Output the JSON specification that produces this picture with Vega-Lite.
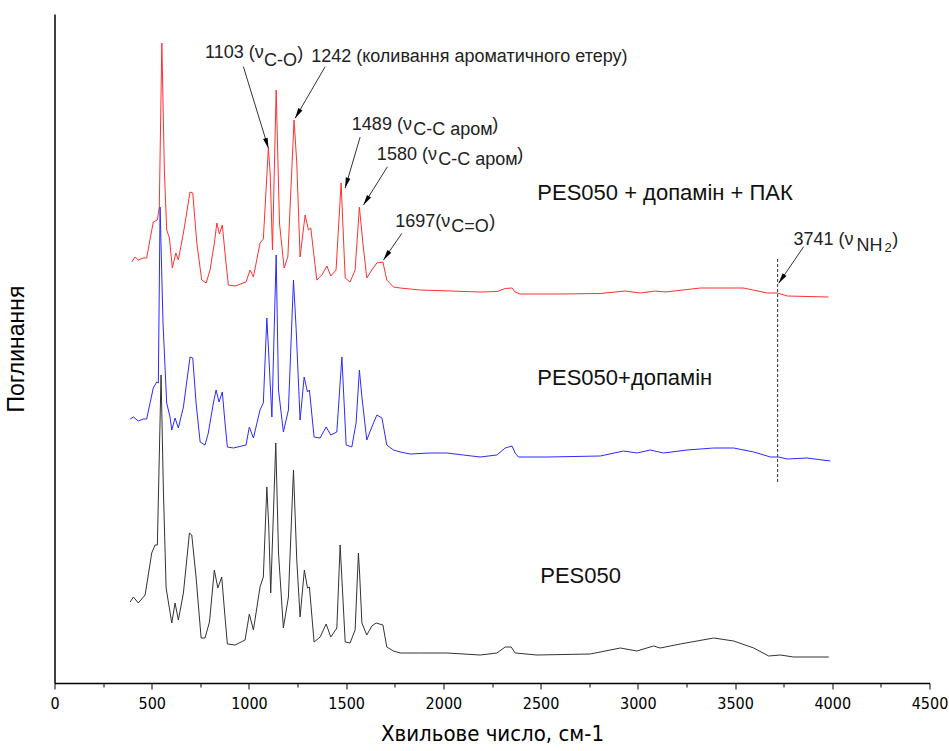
{
  "$schema": "https://vega.github.io/schema/vega-lite/v6.json",
  "width": 875,
  "height": 669,
  "autosize": "none",
  "padding": {"left": 54.5, "top": 14, "right": 19.5, "bottom": 68},
  "background": "white",
  "config": {"view": {"stroke": null}, "font": "Liberation Sans"},
  "datasets": {
    "spectra": [
      {"s":"PES050 + допамін + ПАК","wn":397,"a":421},{"s":"PES050 + допамін + ПАК","wn":414,"a":426},{"s":"PES050 + допамін + ПАК","wn":431,"a":423},{"s":"PES050 + допамін + ПАК","wn":457,"a":425},{"s":"PES050 + допамін + ПАК","wn":474,"a":425},{"s":"PES050 + допамін + ПАК","wn":508,"a":461},{"s":"PES050 + допамін + ПАК","wn":529,"a":463},{"s":"PES050 + допамін + ПАК","wn":539,"a":476},{"s":"PES050 + допамін + ПАК","wn":552,"a":640},{"s":"PES050 + допамін + ПАК","wn":565,"a":513},{"s":"PES050 + допамін + ПАК","wn":577,"a":453},{"s":"PES050 + допамін + ПАК","wn":591,"a":445},{"s":"PES050 + допамін + ПАК","wn":606,"a":415},{"s":"PES050 + допамін + ПАК","wn":624,"a":430},{"s":"PES050 + допамін + ПАК","wn":637,"a":423},{"s":"PES050 + допамін + ПАК","wn":663,"a":450},{"s":"PES050 + допамін + ПАК","wn":697,"a":491},{"s":"PES050 + допамін + ПАК","wn":711,"a":490},{"s":"PES050 + допамін + ПАК","wn":732,"a":440},{"s":"PES050 + допамін + ПАК","wn":757,"a":403},{"s":"PES050 + допамін + ПАК","wn":780,"a":400},{"s":"PES050 + допамін + ПАК","wn":800,"a":413},{"s":"PES050 + допамін + ПАК","wn":822,"a":440},{"s":"PES050 + допамін + ПАК","wn":835,"a":460},{"s":"PES050 + допамін + ПАК","wn":848,"a":449},{"s":"PES050 + допамін + ПАК","wn":863,"a":458},{"s":"PES050 + допамін + ПАК","wn":882,"a":420},{"s":"PES050 + допамін + ПАК","wn":894,"a":398},{"s":"PES050 + допамін + ПАК","wn":929,"a":397},{"s":"PES050 + допамін + ПАК","wn":985,"a":401},{"s":"PES050 + допамін + ПАК","wn":1006,"a":413},{"s":"PES050 + допамін + ПАК","wn":1023,"a":406},{"s":"PES050 + допамін + ПАК","wn":1057,"a":440},{"s":"PES050 + допамін + ПАК","wn":1074,"a":444},{"s":"PES050 + допамін + ПАК","wn":1100,"a":535},{"s":"PES050 + допамін + ПАК","wn":1109,"a":510},{"s":"PES050 + допамін + ПАК","wn":1121,"a":433},{"s":"PES050 + допамін + ПАК","wn":1140,"a":593},{"s":"PES050 + допамін + ПАК","wn":1157,"a":460},{"s":"PES050 + допамін + ПАК","wn":1181,"a":415},{"s":"PES050 + допамін + ПАК","wn":1200,"a":426},{"s":"PES050 + допамін + ПАК","wn":1232,"a":563},{"s":"PES050 + допамін + ПАК","wn":1246,"a":520},{"s":"PES050 + допамін + ПАК","wn":1263,"a":426},{"s":"PES050 + допамін + ПАК","wn":1289,"a":468},{"s":"PES050 + допамін + ПАК","wn":1306,"a":453},{"s":"PES050 + допамін + ПАК","wn":1318,"a":455},{"s":"PES050 + допамін + ПАК","wn":1349,"a":403},{"s":"PES050 + допамін + ПАК","wn":1375,"a":408},{"s":"PES050 + допамін + ПАК","wn":1401,"a":417},{"s":"PES050 + допамін + ПАК","wn":1421,"a":407},{"s":"PES050 + допамін + ПАК","wn":1448,"a":413},{"s":"PES050 + допамін + ПАК","wn":1474,"a":500},{"s":"PES050 + допамін + ПАК","wn":1495,"a":405},{"s":"PES050 + допамін + ПАК","wn":1520,"a":401},{"s":"PES050 + допамін + ПАК","wn":1546,"a":413},{"s":"PES050 + допамін + ПАК","wn":1568,"a":476},{"s":"PES050 + допамін + ПАК","wn":1586,"a":440},{"s":"PES050 + допамін + ПАК","wn":1606,"a":405},{"s":"PES050 + допамін + ПАК","wn":1632,"a":413},{"s":"PES050 + допамін + ПАК","wn":1658,"a":420},{"s":"PES050 + допамін + ПАК","wn":1689,"a":421},{"s":"PES050 + допамін + ПАК","wn":1709,"a":403},{"s":"PES050 + допамін + ПАК","wn":1743,"a":396},{"s":"PES050 + допамін + ПАК","wn":1778,"a":395},{"s":"PES050 + допамін + ПАК","wn":1881,"a":393},{"s":"PES050 + допамін + ПАК","wn":2035,"a":392},{"s":"PES050 + допамін + ПАК","wn":2189,"a":391},{"s":"PES050 + допамін + ПАК","wn":2277,"a":391.5},{"s":"PES050 + допамін + ПАК","wn":2318,"a":394.5},{"s":"PES050 + допамін + ПАК","wn":2354,"a":395},{"s":"PES050 + допамін + ПАК","wn":2369,"a":391},{"s":"PES050 + допамін + ПАК","wn":2395,"a":389},{"s":"PES050 + допамін + ПАК","wn":2601,"a":389},{"s":"PES050 + допамін + ПАК","wn":2807,"a":389.5},{"s":"PES050 + допамін + ПАК","wn":2935,"a":392},{"s":"PES050 + допамін + ПАК","wn":3013,"a":390},{"s":"PES050 + допамін + ПАК","wn":3090,"a":392},{"s":"PES050 + допамін + ПАК","wn":3141,"a":391},{"s":"PES050 + допамін + ПАК","wn":3321,"a":395},{"s":"PES050 + допамін + ПАК","wn":3543,"a":395},{"s":"PES050 + допамін + ПАК","wn":3666,"a":390},{"s":"PES050 + допамін + ПАК","wn":3718,"a":390},{"s":"PES050 + допамін + ПАК","wn":3769,"a":387},{"s":"PES050 + допамін + ПАК","wn":3980,"a":386},
      {"s":"PES050+допамін","wn":389,"a":264},{"s":"PES050+допамін","wn":406,"a":266},{"s":"PES050+допамін","wn":431,"a":262},{"s":"PES050+допамін","wn":457,"a":264},{"s":"PES050+допамін","wn":474,"a":264},{"s":"PES050+допамін","wn":508,"a":295},{"s":"PES050+допамін","wn":526,"a":301},{"s":"PES050+допамін","wn":534,"a":300},{"s":"PES050+допамін","wn":543,"a":476},{"s":"PES050+допамін","wn":558,"a":360},{"s":"PES050+допамін","wn":577,"a":280},{"s":"PES050+допамін","wn":594,"a":266},{"s":"PES050+допамін","wn":603,"a":253},{"s":"PES050+допамін","wn":620,"a":265},{"s":"PES050+допамін","wn":637,"a":255},{"s":"PES050+допамін","wn":663,"a":276},{"s":"PES050+допамін","wn":697,"a":326},{"s":"PES050+допамін","wn":711,"a":325},{"s":"PES050+допамін","wn":728,"a":280},{"s":"PES050+допамін","wn":749,"a":241},{"s":"PES050+допамін","wn":774,"a":238},{"s":"PES050+допамін","wn":791,"a":250},{"s":"PES050+допамін","wn":817,"a":280},{"s":"PES050+допамін","wn":831,"a":293},{"s":"PES050+допамін","wn":846,"a":281},{"s":"PES050+допамін","wn":863,"a":291},{"s":"PES050+допамін","wn":877,"a":260},{"s":"PES050+допамін","wn":889,"a":236},{"s":"PES050+допамін","wn":920,"a":235},{"s":"PES050+допамін","wn":985,"a":238},{"s":"PES050+допамін","wn":1002,"a":256},{"s":"PES050+допамін","wn":1023,"a":245},{"s":"PES050+допамін","wn":1057,"a":273},{"s":"PES050+допамін","wn":1074,"a":280},{"s":"PES050+допамін","wn":1092,"a":365},{"s":"PES050+допамін","wn":1100,"a":336},{"s":"PES050+допамін","wn":1118,"a":266},{"s":"PES050+допамін","wn":1140,"a":428},{"s":"PES050+допамін","wn":1152,"a":293},{"s":"PES050+допамін","wn":1177,"a":251},{"s":"PES050+допамін","wn":1203,"a":273},{"s":"PES050+допамін","wn":1229,"a":403},{"s":"PES050+допамін","wn":1243,"a":353},{"s":"PES050+допамін","wn":1263,"a":263},{"s":"PES050+допамін","wn":1284,"a":306},{"s":"PES050+допамін","wn":1301,"a":291},{"s":"PES050+допамін","wn":1311,"a":293},{"s":"PES050+допамін","wn":1335,"a":246},{"s":"PES050+допамін","wn":1366,"a":245},{"s":"PES050+допамін","wn":1397,"a":256},{"s":"PES050+допамін","wn":1421,"a":248},{"s":"PES050+допамін","wn":1452,"a":251},{"s":"PES050+допамін","wn":1478,"a":326},{"s":"PES050+допамін","wn":1500,"a":238},{"s":"PES050+допамін","wn":1529,"a":236},{"s":"PES050+допамін","wn":1551,"a":260},{"s":"PES050+допамін","wn":1568,"a":313},{"s":"PES050+допамін","wn":1581,"a":286},{"s":"PES050+допамін","wn":1606,"a":243},{"s":"PES050+допамін","wn":1632,"a":256},{"s":"PES050+допамін","wn":1658,"a":268},{"s":"PES050+допамін","wn":1684,"a":265},{"s":"PES050+допамін","wn":1709,"a":238},{"s":"PES050+допамін","wn":1743,"a":233},{"s":"PES050+допамін","wn":1778,"a":231},{"s":"PES050+допамін","wn":1829,"a":229},{"s":"PES050+допамін","wn":1932,"a":230},{"s":"PES050+допамін","wn":2018,"a":230},{"s":"PES050+допамін","wn":2103,"a":228},{"s":"PES050+допамін","wn":2189,"a":226},{"s":"PES050+допамін","wn":2275,"a":228},{"s":"PES050+допамін","wn":2318,"a":235},{"s":"PES050+допамін","wn":2353,"a":237},{"s":"PES050+допамін","wn":2369,"a":230},{"s":"PES050+допамін","wn":2386,"a":226},{"s":"PES050+допамін","wn":2533,"a":226},{"s":"PES050+допамін","wn":2807,"a":227},{"s":"PES050+допамін","wn":2927,"a":232},{"s":"PES050+допамін","wn":2995,"a":230},{"s":"PES050+допамін","wn":3064,"a":233},{"s":"PES050+допамін","wn":3132,"a":230},{"s":"PES050+допамін","wn":3253,"a":233},{"s":"PES050+допамін","wn":3390,"a":235},{"s":"PES050+допамін","wn":3493,"a":235},{"s":"PES050+допамін","wn":3596,"a":231},{"s":"PES050+допамін","wn":3682,"a":226},{"s":"PES050+допамін","wn":3724,"a":226},{"s":"PES050+допамін","wn":3768,"a":224},{"s":"PES050+допамін","wn":3870,"a":225},{"s":"PES050+допамін","wn":3990,"a":222},
      {"s":"PES050","wn":389,"a":81},{"s":"PES050","wn":406,"a":86},{"s":"PES050","wn":431,"a":80},{"s":"PES050","wn":466,"a":88},{"s":"PES050","wn":500,"a":130},{"s":"PES050","wn":517,"a":138},{"s":"PES050","wn":529,"a":138},{"s":"PES050","wn":548,"a":308},{"s":"PES050","wn":560,"a":193},{"s":"PES050","wn":574,"a":95},{"s":"PES050","wn":603,"a":60},{"s":"PES050","wn":620,"a":80},{"s":"PES050","wn":637,"a":63},{"s":"PES050","wn":663,"a":90},{"s":"PES050","wn":694,"a":150},{"s":"PES050","wn":706,"a":148},{"s":"PES050","wn":728,"a":106},{"s":"PES050","wn":754,"a":45},{"s":"PES050","wn":774,"a":45},{"s":"PES050","wn":797,"a":61},{"s":"PES050","wn":822,"a":113},{"s":"PES050","wn":840,"a":95},{"s":"PES050","wn":860,"a":106},{"s":"PES050","wn":877,"a":66},{"s":"PES050","wn":889,"a":39},{"s":"PES050","wn":929,"a":38},{"s":"PES050","wn":980,"a":43},{"s":"PES050","wn":1002,"a":69},{"s":"PES050","wn":1023,"a":53},{"s":"PES050","wn":1057,"a":96},{"s":"PES050","wn":1074,"a":106},{"s":"PES050","wn":1092,"a":196},{"s":"PES050","wn":1102,"a":156},{"s":"PES050","wn":1112,"a":90},{"s":"PES050","wn":1138,"a":240},{"s":"PES050","wn":1152,"a":130},{"s":"PES050","wn":1177,"a":55},{"s":"PES050","wn":1203,"a":86},{"s":"PES050","wn":1229,"a":213},{"s":"PES050","wn":1246,"a":123},{"s":"PES050","wn":1263,"a":66},{"s":"PES050","wn":1285,"a":113},{"s":"PES050","wn":1301,"a":95},{"s":"PES050","wn":1311,"a":96},{"s":"PES050","wn":1335,"a":41},{"s":"PES050","wn":1366,"a":46},{"s":"PES050","wn":1397,"a":59},{"s":"PES050","wn":1421,"a":46},{"s":"PES050","wn":1452,"a":55},{"s":"PES050","wn":1469,"a":138},{"s":"PES050","wn":1495,"a":41},{"s":"PES050","wn":1520,"a":40},{"s":"PES050","wn":1546,"a":53},{"s":"PES050","wn":1563,"a":130},{"s":"PES050","wn":1569,"a":110},{"s":"PES050","wn":1581,"a":60},{"s":"PES050","wn":1606,"a":48},{"s":"PES050","wn":1632,"a":57},{"s":"PES050","wn":1654,"a":60},{"s":"PES050","wn":1689,"a":58},{"s":"PES050","wn":1709,"a":36},{"s":"PES050","wn":1743,"a":32},{"s":"PES050","wn":1778,"a":30},{"s":"PES050","wn":1881,"a":30},{"s":"PES050","wn":2018,"a":30},{"s":"PES050","wn":2189,"a":28},{"s":"PES050","wn":2275,"a":30},{"s":"PES050","wn":2318,"a":36},{"s":"PES050","wn":2349,"a":36},{"s":"PES050","wn":2369,"a":30},{"s":"PES050","wn":2481,"a":28},{"s":"PES050","wn":2755,"a":29},{"s":"PES050","wn":2910,"a":35},{"s":"PES050","wn":2995,"a":32},{"s":"PES050","wn":3081,"a":37},{"s":"PES050","wn":3115,"a":35},{"s":"PES050","wn":3218,"a":39},{"s":"PES050","wn":3390,"a":45},{"s":"PES050","wn":3493,"a":42},{"s":"PES050","wn":3596,"a":35},{"s":"PES050","wn":3673,"a":27},{"s":"PES050","wn":3733,"a":28},{"s":"PES050","wn":3801,"a":26},{"s":"PES050","wn":3982,"a":26}
    ],
    "arrows": [
      {"wn": 971.5, "a": 616.3, "wn2": 1100.1, "a2": 534.7},
      {"wn": 1391.8, "a": 616.3, "wn2": 1237.5, "a2": 564.7},
      {"wn": 1571.9, "a": 546, "wn2": 1494.7, "a2": 495},
      {"wn": 1712.4, "a": 516.3, "wn2": 1588.9, "a2": 478},
      {"wn": 1786.5, "a": 449.7, "wn2": 1691.8, "a2": 423},
      {"wn": 3852.9, "a": 436.3, "wn2": 3724.2, "a2": 399.7}
    ],
    "marker": [
      {"wn": 3719, "a": 201, "a2": 425}
    ],
    "notes": [
      {"k": "m", "wn": 774.4, "a": 630, "t": "1103 (ν"},
      {"k": "s", "wn": 1078, "a": 622.5, "t": "C-O"},
      {"k": "m", "wn": 1247.8, "a": 629, "t": ")"},
      {"k": "m", "wn": 1319.8, "a": 626.5, "t": "1242 (коливання ароматичного етеру)"},
      {"k": "m", "wn": 1529.2, "a": 558, "t": "1489 (ν"},
      {"k": "s", "wn": 1844.6, "a": 553, "t": "C-C аром"},
      {"k": "m", "wn": 2251, "a": 558, "t": ")"},
      {"k": "m", "wn": 1657.9, "a": 528, "t": "1580 (ν"},
      {"k": "s", "wn": 1973.3, "a": 523, "t": "C-C аром"},
      {"k": "m", "wn": 2379.7, "a": 528, "t": ")"},
      {"k": "m", "wn": 1752.0, "a": 461.3, "t": "1697(ν"},
      {"k": "s", "wn": 2040.2, "a": 456, "t": "C=O"},
      {"k": "m", "wn": 2235.7, "a": 461, "t": ")"},
      {"k": "m", "wn": 3800, "a": 443, "t": "3741 (ν"},
      {"k": "s", "wn": 4124, "a": 437, "t": "NH"},
      {"k": "ss", "wn": 4268, "a": 435, "t": "2"},
      {"k": "m", "wn": 4309, "a": 443, "t": ")"}
    ],
    "series": [
      {"wn": 2483, "a": 490, "t": "PES050 + допамін + ПАК"},
      {"wn": 2483, "a": 305, "t": "PES050+допамін"},
      {"wn": 2498, "a": 107, "t": "PES050"}
    ]
  },
  "encoding": {
    "x": {
      "field": "wn", "type": "quantitative",
      "scale": {"domain": [0, 4500], "nice": false, "zero": false},
      "axis": {
        "title": "Хвильове число, см-1",
        "values": [0,250,500,750,1000,1250,1500,1750,2000,2250,2500,2750,3000,3250,3500,3750,4000,4250,4500],
        "format": "d",
        "labelExpr": "datum.value % 500 === 0 ? datum.label : ''",
        "tickSize": {"condition": {"test": "datum.value % 500 === 0", "value": 6}, "value": 4},
        "grid": false,
        "domainColor": "#000", "domainWidth": 1.5,
        "tickColor": "#000", "tickWidth": 1,
        "labelFont": "DejaVu Sans Condensed, Liberation Sans, sans-serif", "labelFontSize": 16, "labelColor": "#000", "labelPadding": 6,
        "labelFlush": false, "labelOverlap": false,
        "titleFont": "DejaVu Sans Condensed, Liberation Sans, sans-serif", "titleFontSize": 22, "titleFontWeight": "normal", "titleColor": "#000", "titlePadding": 12
      }
    },
    "y": {
      "field": "a", "type": "quantitative",
      "scale": {"domain": [0, 669], "nice": false, "zero": false},
      "axis": {
        "title": "Поглинання", "ticks": false, "labels": false, "grid": false,
        "domainColor": "#000", "domainWidth": 1.5,
        "titleFont": "Liberation Sans", "titleFontSize": 23, "titleFontWeight": "normal", "titleColor": "#000", "titlePadding": 26
      }
    }
  },
  "layer": [
    {
      "data": {"name": "spectra"},
      "mark": {"type": "line", "strokeWidth": 1, "interpolate": "linear"},
      "encoding": {
        "color": {
          "field": "s", "type": "nominal", "legend": null,
          "scale": {"domain": ["PES050", "PES050+допамін", "PES050 + допамін + ПАК"], "range": ["#333333", "#2b2bff", "#ff3030"]}
        }
      }
    },
    {
      "data": {"name": "marker"},
      "mark": {"type": "rule", "color": "#333", "strokeWidth": 1, "strokeDash": [3, 2]},
      "encoding": {"y2": {"field": "a2"}}
    },
    {
      "data": {"name": "arrows"},
      "mark": {"type": "rule", "color": "#333", "strokeWidth": 1},
      "encoding": {"x2": {"field": "wn2"}, "y2": {"field": "a2"}}
    },
    {
      "data": {"name": "arrows"},
      "transform": [
        {"calculate": "atan2((datum.wn2 - datum.wn) * 875 / 4500, datum.a2 - datum.a) * 180 / PI", "as": "ang"}
      ],
      "mark": {"type": "point", "shape": "M0,0L0.5,2.2L-0.5,2.2Z", "filled": true, "color": "#000", "opacity": 1, "size": 90},
      "encoding": {
        "x": {"field": "wn2", "type": "quantitative"},
        "y": {"field": "a2", "type": "quantitative"},
        "angle": {"field": "ang", "type": "quantitative", "scale": null}
      }
    },
    {
      "data": {"name": "notes"},
      "transform": [{"filter": "datum.k === 'm'"}],
      "mark": {"type": "text", "align": "left", "baseline": "middle", "fontSize": 18, "font": "Liberation Sans", "color": "#222"},
      "encoding": {"text": {"field": "t"}}
    },
    {
      "data": {"name": "notes"},
      "transform": [{"filter": "datum.k === 's'"}],
      "mark": {"type": "text", "align": "left", "baseline": "middle", "fontSize": 18, "font": "Liberation Sans", "color": "#222"},
      "encoding": {"text": {"field": "t"}}
    },
    {
      "data": {"name": "notes"},
      "transform": [{"filter": "datum.k === 'ss'"}],
      "mark": {"type": "text", "align": "left", "baseline": "middle", "fontSize": 13, "font": "Liberation Sans", "color": "#222"},
      "encoding": {"text": {"field": "t"}}
    },
    {
      "data": {"name": "series"},
      "mark": {"type": "text", "align": "left", "baseline": "middle", "fontSize": 22, "font": "Liberation Sans", "color": "#111"},
      "encoding": {"text": {"field": "t"}}
    }
  ]
}
